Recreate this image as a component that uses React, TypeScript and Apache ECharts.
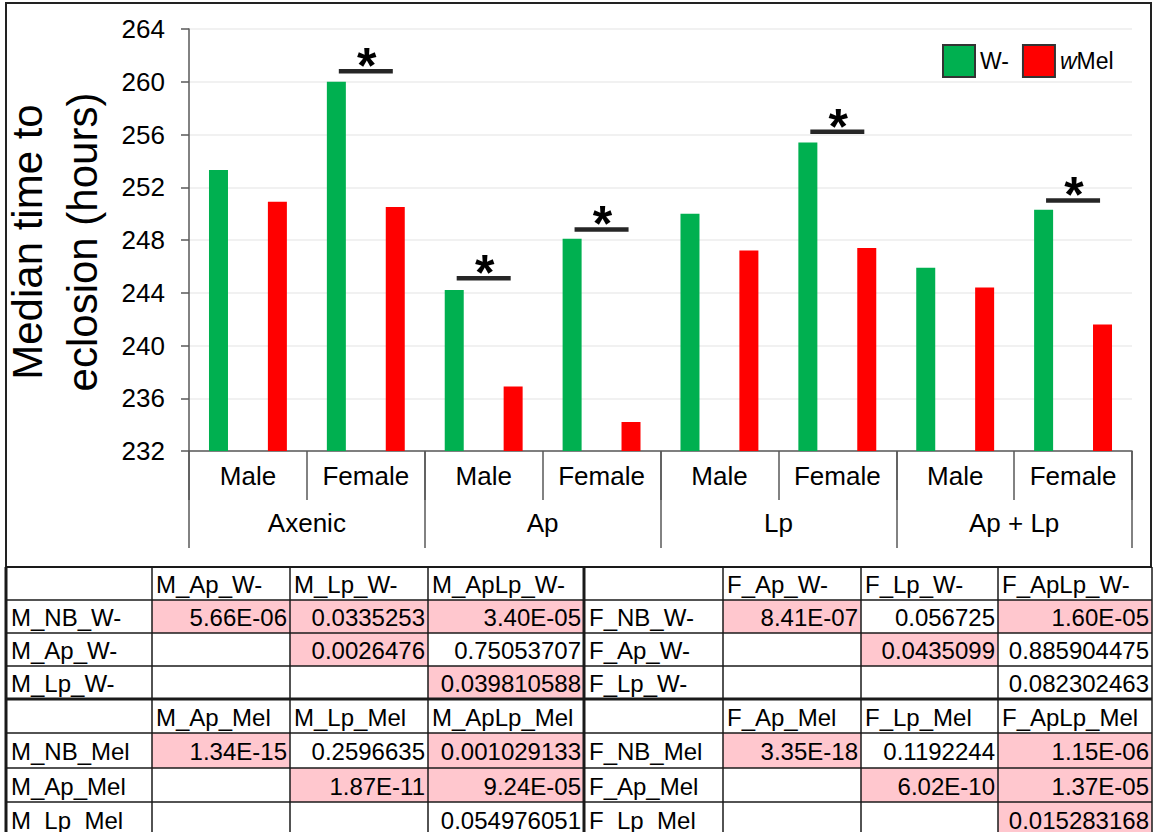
import React, { useEffect, useRef } from 'react';
import * as echarts from 'echarts';

const FONT = "'Liberation Sans', Arial, sans-serif";

// ---- chart data ----
const sexes = ['Male', 'Female', 'Male', 'Female', 'Male', 'Female', 'Male', 'Female'];
const groups = ['Axenic', 'Ap', 'Lp', 'Ap + Lp'];
const wMinus = [253.3, 260.0, 244.2, 248.1, 250.0, 255.4, 245.9, 250.3];
const wMel = [250.9, 250.5, 236.9, 234.2, 247.2, 247.4, 244.4, 241.6];
const sigIndex = [1, 2, 3, 5, 7];
const sigLevel = [260.8, 245.1, 248.8, 256.2, 251.0];
const yMin = 232;
const yMax = 264;
const yStep = 4;

// ---- table data ----
const mWHead = ['M_Ap_W-', 'M_Lp_W-', 'M_ApLp_W-'];
const mWRows = ['M_NB_W-', 'M_Ap_W-', 'M_Lp_W-'];
const mWVals = [
  ['5.66E-06', '0.0335253', '3.40E-05'],
  ['', '0.0026476', '0.75053707'],
  ['', '', '0.039810588'],
];
const fWHead = ['F_Ap_W-', 'F_Lp_W-', 'F_ApLp_W-'];
const fWRows = ['F_NB_W-', 'F_Ap_W-', 'F_Lp_W-'];
const fWVals = [
  ['8.41E-07', '0.056725', '1.60E-05'],
  ['', '0.0435099', '0.885904475'],
  ['', '', '0.082302463'],
];
const mMelHead = ['M_Ap_Mel', 'M_Lp_Mel', 'M_ApLp_Mel'];
const mMelRows = ['M_NB_Mel', 'M_Ap_Mel', 'M_Lp_Mel'];
const mMelVals = [
  ['1.34E-15', '0.2596635', '0.001029133'],
  ['', '1.87E-11', '9.24E-05'],
  ['', '', '0.054976051'],
];
const fMelHead = ['F_Ap_Mel', 'F_Lp_Mel', 'F_ApLp_Mel'];
const fMelRows = ['F_NB_Mel', 'F_Ap_Mel', 'F_Lp_Mel'];
const fMelVals = [
  ['3.35E-18', '0.1192244', '1.15E-06'],
  ['', '6.02E-10', '1.37E-05'],
  ['', '', '0.015283168'],
];

// table geometry
const colX = [6, 152, 290, 428, 584, 723, 861, 998, 1152];
const rowY = [567, 600, 633, 666, 699, 733, 768, 802, 836];

function buildTable(): any[] {
  const els: any[] = [];
  const blocks = [
    { r0: 0, c0: 0, head: mWHead, rows: mWRows, vals: mWVals },
    { r0: 0, c0: 4, head: fWHead, rows: fWRows, vals: fWVals },
    { r0: 4, c0: 0, head: mMelHead, rows: mMelRows, vals: mMelVals },
    { r0: 4, c0: 4, head: fMelHead, rows: fMelRows, vals: fMelVals },
  ];
  const txt = (x: number, y: number, text: string, align: string) => ({
    type: 'text',
    x,
    y,
    silent: true,
    style: { text, fontSize: 24, fontFamily: FONT, fill: '#000', align, verticalAlign: 'middle' },
  });
  blocks.forEach((b) => {
    b.head.forEach((h, j) => {
      const c = b.c0 + 1 + j;
      els.push(txt(colX[c] + 4, (rowY[b.r0] + rowY[b.r0 + 1]) / 2 + 1, h, 'left'));
    });
    b.rows.forEach((rl, i) => {
      const r = b.r0 + 1 + i;
      const cy = (rowY[r] + rowY[r + 1]) / 2 + 1;
      els.push(txt(colX[b.c0] + 5, cy, rl, 'left'));
      b.vals[i].forEach((v, j) => {
        const c = b.c0 + 1 + j;
        if (v !== '' && parseFloat(v) < 0.05) {
          els.push({
            type: 'rect',
            silent: true,
            shape: { x: colX[c], y: rowY[r], width: colX[c + 1] - colX[c], height: rowY[r + 1] - rowY[r] },
            style: { fill: '#FFC7CE' },
            z: -1,
          });
        }
        if (v !== '') els.push(txt(colX[c + 1] - 3, cy, v, 'right'));
      });
    });
  });
  rowY.forEach((y, i) => {
    const w = i === 4 ? 3 : i === 0 ? 2 : 1.5;
    els.push({
      type: 'line',
      silent: true,
      shape: { x1: colX[0], y1: y, x2: colX[colX.length - 1], y2: y },
      style: { stroke: '#1a1a1a', lineWidth: w },
    });
  });
  colX.forEach((x, i) => {
    const w = i === 4 || i === 0 ? 3 : 1.5;
    els.push({
      type: 'line',
      silent: true,
      shape: { x1: x, y1: rowY[0], x2: x, y2: rowY[rowY.length - 1] },
      style: { stroke: '#1a1a1a', lineWidth: w },
    });
  });
  return els;
}

export default function App() {
  const ref = useRef<HTMLDivElement>(null);
  useEffect(() => {
    document.body.style.margin = '0';
    const chart = echarts.init(ref.current as HTMLDivElement, null, { renderer: 'svg' });
    const axisColor = '#595959';
    const option: any = {
      animation: false,
      backgroundColor: '#fff',
      textStyle: { fontFamily: FONT },
      grid: { left: 189, right: 23, top: 29, bottom: 381, containLabel: false },
      legend: {
        data: ['W-', 'wMel'],
        left: 937,
        top: 39,
        icon: 'rect',
        itemWidth: 32,
        itemHeight: 32,
        itemGap: 13,
        itemStyle: { borderColor: '#333', borderWidth: 2 },
        textStyle: {
          fontSize: 23,
          color: '#000',
          fontFamily: FONT,
          rich: { i: { fontStyle: 'italic', fontSize: 23, color: '#000', fontFamily: FONT } },
        },
        formatter: (n: string) => (n === 'wMel' ? '{i|w}Mel' : n),
      },
      xAxis: [
        {
          type: 'category',
          data: sexes,
          position: 'bottom',
          axisLine: { lineStyle: { color: axisColor, width: 1.5 } },
          axisTick: { alignWithLabel: true, length: 8, lineStyle: { color: axisColor, width: 1.5 } },
          axisLabel: { fontSize: 26, color: '#000', margin: 12, fontFamily: FONT },
          splitLine: { show: false },
        },
        {
          type: 'category',
          data: groups,
          position: 'bottom',
          axisLine: { show: false },
          axisTick: { show: true, length: 97, lineStyle: { color: axisColor, width: 1.5 } },
          axisLabel: { fontSize: 26, color: '#000', margin: 59, fontFamily: FONT },
        },
        {
          type: 'category',
          data: sexes,
          position: 'bottom',
          axisLine: { show: false },
          axisTick: { show: true, length: 49, lineStyle: { color: axisColor, width: 1.5 } },
          axisLabel: { show: false },
        },
      ],
      yAxis: {
        type: 'value',
        min: yMin,
        max: yMax,
        interval: yStep,
        axisLine: { show: true, lineStyle: { color: axisColor, width: 1.5 } },
        axisTick: { show: true, length: 8, lineStyle: { color: axisColor, width: 1.5 } },
        axisLabel: { fontSize: 26, color: '#000', margin: 24, fontFamily: FONT },
        splitLine: { lineStyle: { color: '#ececec', width: 1.5 } },
      },
      series: [
        {
          name: 'W-',
          type: 'bar',
          data: wMinus,
          barWidth: 19,
          barGap: '210%',
          itemStyle: { color: '#00B050' },
        },
        {
          name: 'wMel',
          type: 'bar',
          data: wMel,
          barWidth: 19,
          barGap: '210%',
          itemStyle: { color: '#FF0000' },
        },
        {
          name: 'sig',
          type: 'custom',
          data: sigIndex.map((c, i) => [c, sigLevel[i]]),
          z: 5,
          renderItem: (params: any, api: any) => {
            const p = api.coord([api.value(0), api.value(1)]);
            return {
              type: 'group',
              children: [
                {
                  type: 'line',
                  shape: { x1: p[0] - 27, y1: p[1], x2: p[0] + 27, y2: p[1] },
                  style: { stroke: '#262626', lineWidth: 4.5 },
                },
                {
                  type: 'text',
                  x: p[0] + 1,
                  y: p[1] - 5,
                  style: {
                    text: '*',
                    fontSize: 50,
                    fontWeight: 'bold',
                    fontFamily: FONT,
                    fill: '#000',
                    align: 'center',
                    verticalAlign: 'middle',
                  },
                },
              ],
            };
          },
        },
      ],
      graphic: [
        {
          type: 'text',
          x: 55,
          y: 242,
          rotation: Math.PI / 2,
          silent: true,
          style: {
            text: 'Median time to\neclosion (hours)',
            fontSize: 42,
            lineHeight: 55,
            fontFamily: FONT,
            fill: '#000',
            align: 'center',
            verticalAlign: 'middle',
          },
        },
        {
          type: 'rect',
          silent: true,
          shape: { x: 6, y: 3, width: 1145, height: 564 },
          style: { fill: 'none', stroke: '#222', lineWidth: 2 },
        },
        ...buildTable(),
      ],
    };
    chart.setOption(option);
    return () => chart.dispose();
  }, []);
  return <div ref={ref} style={{ width: 1155, height: 832 }} />;
}
